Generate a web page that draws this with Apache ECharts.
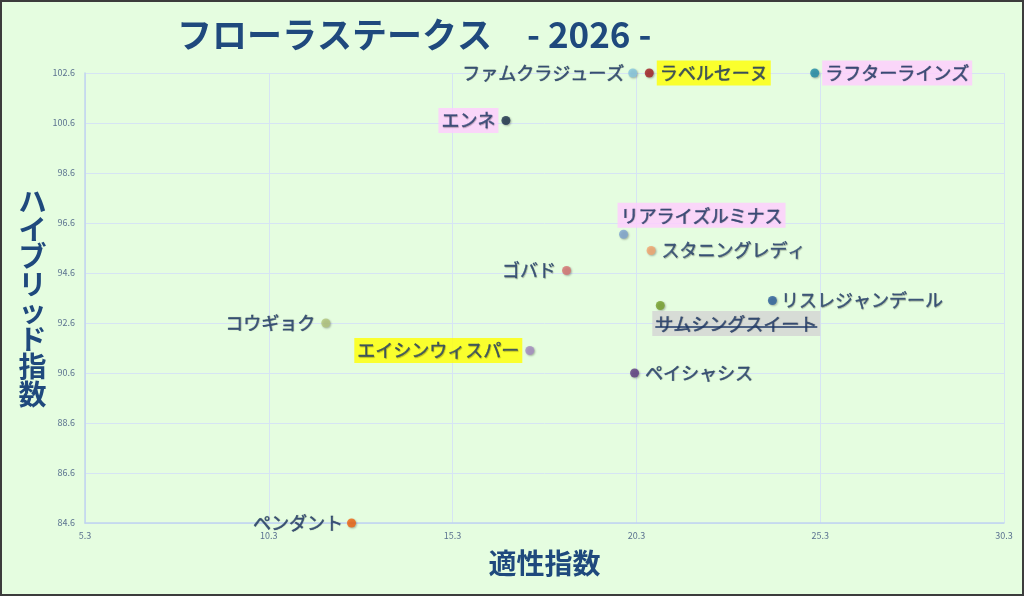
<!DOCTYPE html>
<html><head><meta charset="utf-8">
<script src="https://cdn.jsdelivr.net/npm/echarts@6/dist/echarts.min.js"></script>
<style>html,body{margin:0;padding:0;background:#e5fde0;}#c{width:1024px;height:596px;}</style>
</head><body><div id="c"></div>
<script>
const names = ['ファムクラジューズ','ラベルセーヌ','ラフターラインズ','エンネ','リアライズルミナス','スタニングレディ','ゴバド','リスレジャンデール','サムシングスイート','コウギョク','エイシンウィスパー','ペイシャシス','ペンダント'];
const tekisei = [20.2, 20.65, 25.15, 16.75, 19.95, 20.7, 18.4, 24.0, 20.95, 11.85, 17.4, 20.25, 12.55];
const hybrid  = [102.6, 102.6, 102.6, 100.7, 96.15, 95.5, 94.7, 93.5, 93.3, 92.6, 91.5, 90.6, 84.6];
const xMin = 5.3, xMax = 30.3, xStep = 5;
const yMin = 84.6, yMax = 102.6, yStep = 2;

const dotColors = ['#86c7e0','#a31d22','#1d8aa6','#1c2f4b','#7ea4d0','#f4a56e','#d77272','#2b5e9c','#76a02a','#b2c47c','#a58cc2','#5d3a80','#f0620f'];
const TXT = '#1f3a68';
const labelCfg = {
  'ファムクラジューズ': {position:'left', distance:4},
  'ラベルセーヌ': {position:'right', distance:3, bg:'#ffff00'},
  'ラフターラインズ': {position:'right', distance:3, bg:'#ffccff'},
  'エンネ': {position:'left', distance:3, bg:'#ffccff'},
  'リアライズルミナス': {position:'top', distance:2, offset:[78,0], bg:'#ffccff'},
  'スタニングレディ': {position:'right', distance:6},
  'ゴバド': {position:'left', distance:6},
  'リスレジャンデール': {position:'right', distance:4},
  'サムシングスイート': {position:'bottom', distance:1, offset:[76,0], bg:'#d3d3d3', strike:true},
  'コウギョク': {position:'left', distance:6},
  'エイシンウィスパー': {position:'left', distance:3, bg:'#ffff00'},
  'ペイシャシス': {position:'right', distance:6},
  'ペンダント': {position:'left', distance:4}
};

const FONT = '"Noto Sans CJK JP", "Noto Sans", sans-serif';
const data = names.map((n, i) => {
  const c = labelCfg[n];
  const lab = {
    show: true, formatter: n, position: c.position, distance: c.distance,
    color: TXT, fontSize: 18, fontFamily: FONT,
    textBorderColor: TXT, textBorderWidth: 0.4,
    textShadowColor: 'rgba(0,0,0,0.3)', textShadowBlur: 1, textShadowOffsetX: 0.6, textShadowOffsetY: 0.6
  };
  if (c.offset) lab.offset = c.offset;
  if (c.bg) { lab.backgroundColor = c.bg; lab.padding = [4, 3, 3, 3]; }
  return {
    name: n,
    value: [tekisei[i] - xMin, hybrid[i] - yMin],
    itemStyle: {color: dotColors[i], shadowColor: 'rgba(0,0,0,0.35)', shadowBlur: 2, shadowOffsetX: 1, shadowOffsetY: 1},
    label: lab
  };
});

const chart = echarts.init(document.getElementById('c'));
const option = {
  backgroundColor: '#e5fde0',
  animation: false,
  title: {
    text: 'フローラステークス　- 2026 -', left: 172, top: 12,
    textStyle: {fontFamily: FONT, fontSize: 35, fontWeight: 'bold', color: '#1f497d'}
  },
  grid: {left: 85, right: 20, top: 73, bottom: 73, containLabel: false},
  xAxis: {
    type: 'value', min: 0, max: xMax - xMin, interval: xStep,
    name: '適性指数', nameLocation: 'middle', nameGap: 26,
    nameTextStyle: {fontFamily: FONT, fontSize: 28, fontWeight: 'bold', color: '#1f497d'},
    axisLine: {show: true, lineStyle: {color: '#c0d4ee', width: 1.5}},
    axisTick: {show: false},
    axisLabel: {formatter: v => (v + xMin).toFixed(1), color: '#5b7290', fontSize: 9, margin: 8, fontFamily: FONT},
    splitLine: {show: true, lineStyle: {color: '#d6e4f4', width: 1}}
  },
  yAxis: {
    type: 'value', min: 0, max: yMax - yMin, interval: yStep,
    name: 'ハ\nイ\nブ\nリ\nッ\nド\n指\n数', nameLocation: 'middle', nameGap: 36, nameRotate: 0,
    nameTextStyle: {fontFamily: FONT, fontSize: 28, fontWeight: 'bold', color: '#1f497d', lineHeight: 27.5},
    axisLine: {show: true, lineStyle: {color: '#c0d4ee', width: 1.5}},
    axisTick: {show: false},
    axisLabel: {formatter: v => (v + yMin).toFixed(1), color: '#5b7290', fontSize: 9, margin: 10, fontFamily: FONT},
    splitLine: {show: true, lineStyle: {color: '#d6e4f4', width: 1}}
  },
  series: [{
    type: 'scatter', symbolSize: 9, data: data
  }]
};
chart.setOption(option);

// strikethrough for marked labels, positioned from the point via the chart's scales
const graphics = [{
  type: 'rect', shape: {x: 1, y: 1, width: 1022, height: 594}, z: 100,
  style: {fill: 'none', stroke: '#3c3c3c', lineWidth: 2}, silent: true
}];
names.forEach((n, i) => {
  const c = labelCfg[n];
  if (!c.strike) return;
  const p = chart.convertToPixel({seriesIndex: 0}, [tekisei[i] - xMin, hybrid[i] - yMin]);
  const ctx = document.createElement('canvas').getContext('2d');
  ctx.font = '18px ' + FONT;
  const w = ctx.measureText(n).width;
  const cx = p[0] + c.offset[0];
  const cy = p[1] + 4.5 + c.distance + 4 + 12;
  graphics.push({
    type: 'line', z: 100, silent: true,
    shape: {x1: cx - w / 2, y1: cy, x2: cx + w / 2, y2: cy},
    style: {stroke: TXT, lineWidth: 1.5}
  });
});
chart.setOption({graphic: graphics});
</script></body></html>
